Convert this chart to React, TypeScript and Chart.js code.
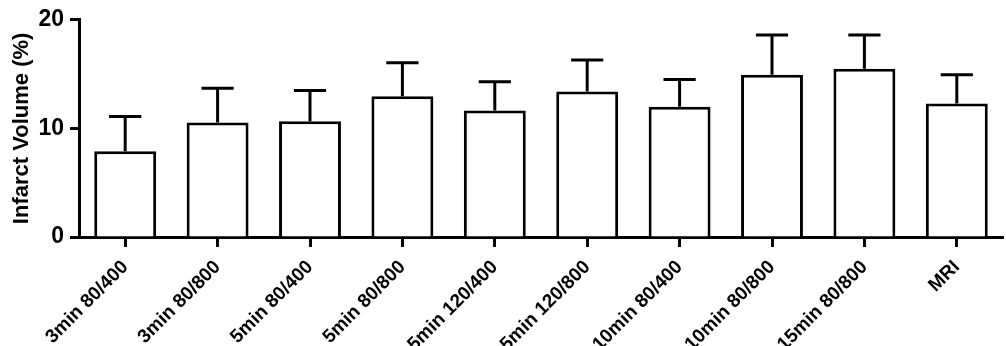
import React, { useEffect, useRef } from "react";
import { Chart, registerables } from "chart.js";

Chart.register(...registerables);

const categories = [
  "3min 80/400",
  "3min 80/800",
  "5min 80/400",
  "5min 80/800",
  "5min 120/400",
  "5min 120/800",
  "10min 80/400",
  "10min 80/800",
  "15min 80/800",
  "MRI",
];
const means = [7.9, 10.55, 10.65, 12.95, 11.65, 13.4, 12.0, 14.95, 15.5, 12.3];
const errors = [3.2, 3.15, 2.85, 3.1, 2.65, 2.9, 2.5, 3.65, 3.1, 2.65];
const yTicks = [0, 10, 20];

const errorBarPlugin = {
  id: "errorBars",
  afterDatasetsDraw(chart: any) {
    const meta = chart.getDatasetMeta(0);
    const yScale = chart.scales.y;
    const ctx = chart.ctx;
    ctx.save();
    ctx.strokeStyle = "#000";
    ctx.lineWidth = 3;
    ctx.lineCap = "butt";
    meta.data.forEach((bar: any, i: number) => {
      const x = bar.x;
      const yMean = yScale.getPixelForValue(means[i]);
      const yTop = yScale.getPixelForValue(means[i] + errors[i]);
      const half = bar.width * 0.26;
      ctx.beginPath();
      ctx.moveTo(x, yMean);
      ctx.lineTo(x, yTop);
      ctx.moveTo(x - half, yTop);
      ctx.lineTo(x + half, yTop);
      ctx.stroke();
    });
    ctx.restore();
  },
};

export default function App() {
  const ref = useRef<HTMLCanvasElement | null>(null);
  useEffect(() => {
    if (!ref.current) return;
    const chart = new Chart(ref.current, {
      type: "bar",
      data: {
        labels: categories,
        datasets: [
          {
            data: means,
            backgroundColor: "#ffffff",
            borderColor: "#000000",
            borderWidth: 3,
            categoryPercentage: 1,
            barPercentage: 0.67,
          },
        ],
      },
      options: {
        animation: false,
        responsive: true,
        maintainAspectRatio: false,
        layout: { padding: { left: 0, right: 3, top: 19, bottom: 0 } },
        plugins: { legend: { display: false }, tooltip: { enabled: false } },
        scales: {
          x: {
            offset: true,
            grid: {
              offset: false,
              drawOnChartArea: false,
              drawTicks: true,
              tickLength: 10,
              tickWidth: 3,
              tickColor: "#000",
            },
            border: { display: true, color: "#000", width: 3 },
            ticks: {
              maxRotation: 45,
              minRotation: 45,
              autoSkip: false,
              color: "#000",
              padding: 9,
              font: { family: "'Liberation Sans', Arial, sans-serif", size: 19, weight: "bold" },
            },
            afterFit: (scale: any) => {
              scale.height = 109;
            },
          },
          y: {
            min: 0,
            max: 20,
            afterBuildTicks: (scale: any) => {
              scale.ticks = yTicks.map((v) => ({ value: v }));
            },
            grid: {
              drawOnChartArea: false,
              drawTicks: true,
              tickLength: 9,
              tickWidth: 3,
              tickColor: "#000",
            },
            border: { display: true, color: "#000", width: 3 },
            ticks: {
              color: "#000",
              padding: 6,
              font: { family: "'Liberation Sans', Arial, sans-serif", size: 23, weight: "bold" },
            },
            title: {
              display: true,
              text: "Infarct Volume (%)",
              color: "#000",
              padding: { top: 9, bottom: 0 },
              font: { family: "'Liberation Sans', Arial, sans-serif", size: 22, weight: "bold" },
            },
            afterFit: (scale: any) => {
              scale.width = 79;
            },
          },
        },
      },
      plugins: [errorBarPlugin],
    });
    return () => chart.destroy();
  }, []);
  return (
    <div style={{ position: "fixed", left: 0, top: 0, width: 1006, height: 346, background: "#fff" }}>
      <canvas ref={ref} />
    </div>
  );
}
